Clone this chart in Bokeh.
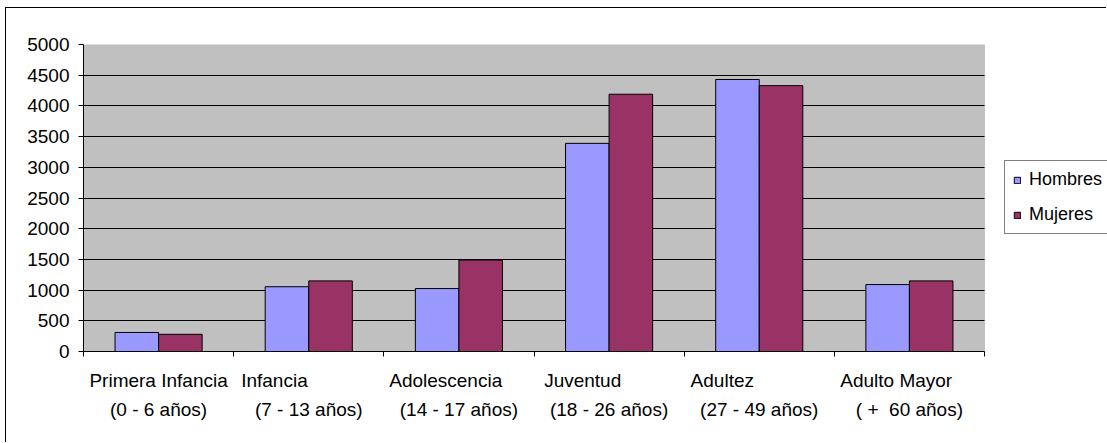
import numpy as np
from bokeh.plotting import figure
from bokeh.models import (Range1d, FixedTicker, Legend, LegendItem, ColumnDataSource,
                          BoxAnnotation)
from bokeh.embed import file_html
from bokeh.resources import INLINE

# Población por grupo de edad y sexo
grupos = ["Primera Infancia", "Infancia", "Adolescencia", "Juventud", "Adultez", "Adulto Mayor"]
edades = ["(0 - 6 años)", "(7 - 13 años)", "(14 - 17 años)", "(18 - 26 años)",
          "(27 - 49 años)", "( +  60 años)"]
hombres = [310, 1055, 1025, 3390, 4430, 1090]
mujeres = [280, 1150, 1490, 4190, 4330, 1150]
series = ["Hombres", "Mujeres"]
colores = ["#9999FF", "#993366"]
y_ticks = list(range(0, 5001, 500))
y_max = 5000

# espacios de relleno tras el nombre del grupo (primera línea de cada etiqueta)
relleno = [0, 13, 5, 10, 14, 5]

FONT = "Liberation Sans"
NBSP = "\u00a0"
n = len(grupos)
idx = np.arange(n)
centros = idx + 0.5
bar_w = 0.29

# geometría del lienzo: el área de trazado ocupa 901 px de ancho a partir de x=77,
# y el marco se prolonga hasta el borde derecho para alojar la leyenda
W, H = 1101, 435
LEFT, TOP, BOTTOM = 77, 36, 92
AREA_PX = 901
x_end = n * (W - LEFT) / AREA_PX

src = ColumnDataSource(dict(
    x_h=centros - bar_w / 2,
    x_m=centros + bar_w / 2,
    hombres=hombres,
    mujeres=mujeres,
))

p = figure(width=W, height=H, output_backend="svg", toolbar_location=None,
           x_range=Range1d(0, x_end), y_range=Range1d(0, y_max),
           min_border_left=LEFT, min_border_right=0,
           min_border_top=TOP, min_border_bottom=BOTTOM)
p.margin = (7, 0, 0, 5)
p.styles = {"border-left": "1px solid black", "border-top": "1px solid black"}
p.background_fill_color = "white"
p.border_fill_color = "white"
p.outline_line_color = None

# fondo gris del área de trazado, bajo la rejilla
area = BoxAnnotation(left=0, right=n, bottom=0, top=y_max, level="underlay",
                     fill_color="#C0C0C0", fill_alpha=1,
                     line_color="#808080", line_width=1)
p.center = [area] + list(p.center)

p.xgrid.visible = False
p.ygrid.ticker = FixedTicker(ticks=y_ticks)
p.ygrid.grid_line_color = "black"
p.ygrid.grid_line_width = 1
p.ygrid.cross_bounds = (0, n)

for ax in (p.xaxis[0], p.yaxis[0]):
    ax.axis_line_color = "black"
    ax.major_tick_line_color = "black"
    ax.major_label_text_font = FONT
    ax.major_label_text_font_size = "19px"
    ax.major_label_text_color = "black"

p.yaxis.ticker = FixedTicker(ticks=y_ticks)
p.yaxis.major_tick_in = 0
p.yaxis.major_tick_out = 5
p.yaxis.minor_tick_line_color = None
p.yaxis.major_label_standoff = 9

# eje x: etiquetas en el centro de cada grupo, marcas entre grupos
p.xaxis.bounds = (0, n)
p.xaxis.ticker = FixedTicker(ticks=list(centros), minor_ticks=list(range(n + 1)))
p.xaxis.major_tick_in = 0
p.xaxis.major_tick_out = 0
p.xaxis.minor_tick_in = 0
p.xaxis.minor_tick_out = 5
p.xaxis.minor_tick_line_color = "black"
p.xaxis.major_label_standoff = 13
p.xaxis.major_label_text_line_height = 1.4
p.xaxis.major_label_overrides = {
    float(c): f"{g}{NBSP * k}\n{e.replace('  ', ' ' + NBSP)}"
    for c, g, k, e in zip(centros, grupos, relleno, edades)
}

r_h = p.vbar(x="x_h", top="hombres", width=bar_w, source=src,
             fill_color=colores[0], line_color="black", line_width=1)
r_m = p.vbar(x="x_m", top="mujeres", width=bar_w, source=src,
             fill_color=colores[1], line_color="black", line_width=1)

legend = Legend(items=[LegendItem(label=s, renderers=[r]) for s, r in zip(series, [r_h, r_m])],
                location=(921, 117), margin=0, padding=8, spacing=14,
                glyph_width=8, glyph_height=8, label_standoff=8, label_height=20,
                label_text_font=FONT, label_text_font_size="18px",
                label_text_color="black",
                border_line_color="black", border_line_width=1,
                background_fill_color="white", background_fill_alpha=1)
p.add_layout(legend)

open("out.html", "w").write(file_html(p, INLINE))
